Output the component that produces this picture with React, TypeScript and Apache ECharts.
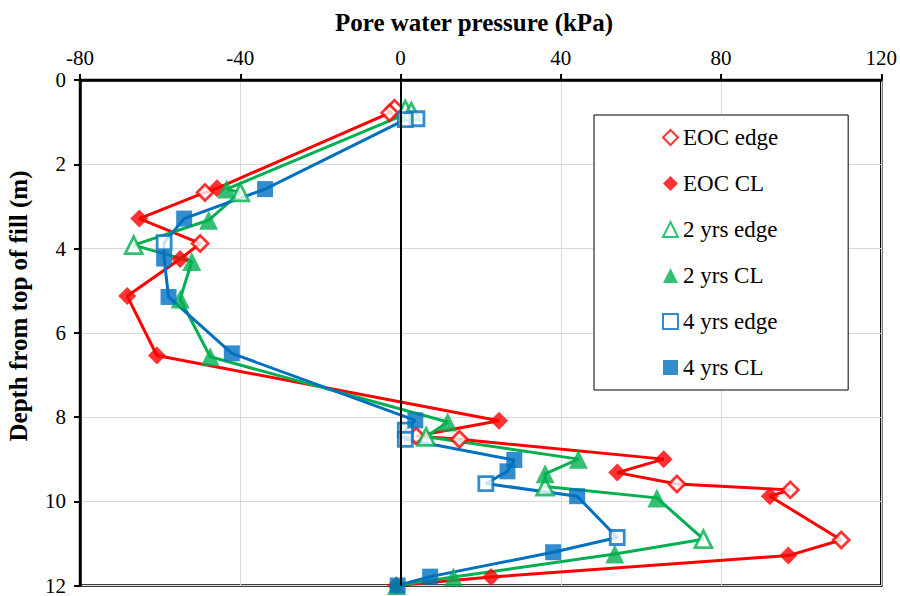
import React, { useEffect, useRef } from "react";
import * as echarts from "echarts";

// [pore water pressure (kPa), depth (m)]
const EOC_EDGE: [number, number][] = [
  [-1.5, 0.67], [-2.7, 0.78], [-48.8, 2.67], [-50, 3.88], [3.9, 8.45],
  [14.7, 8.53], [69, 9.59], [97.3, 9.73], [110, 10.92],
];
const EOC_CL: [number, number][] = [
  [-45.8, 2.57], [-65.2, 3.29], [-55, 4.25], [-68.2, 5.13], [-60.8, 6.54],
  [24.6, 8.09], [65.7, 9.0], [54.1, 9.32], [92.2, 9.88], [96.8, 11.29],
  [22.6, 11.8], [-1.1, 12],
];
const YR2_EDGE: [number, number][] = [
  [1.2, 0.7], [2.7, 0.75], [-40, 2.67], [-66.6, 3.92], [6.4, 8.47],
  [36.1, 9.65], [75.6, 10.9],
];
const YR2_CL: [number, number][] = [
  [-43.4, 2.59], [-47.9, 3.33], [-52.1, 4.31], [-55, 5.2], [-47.5, 6.57],
  [11.8, 8.12], [44.4, 9.0], [36.1, 9.35], [64, 9.92], [53.5, 11.25],
  [13.2, 11.8], [-1, 12],
];
const YR4_EDGE: [number, number][] = [
  [4.1, 0.92], [1.2, 0.94], [-59, 3.86], [1.2, 8.31], [1.2, 8.53],
  [21.3, 9.58], [54.1, 10.86],
];
const YR4_CL: [number, number][] = [
  [-33.8, 2.59], [-54, 3.29], [-59, 4.24], [-57.9, 5.15], [-42.1, 6.49],
  [3.7, 8.08], [28.4, 9.02], [26.7, 9.29], [44.1, 9.88], [38.1, 11.21],
  [7.4, 11.79], [-0.7, 12],
];

const X_TICKS = { min: -80, max: 120, interval: 40 };
const Y_TICKS = { min: 0, max: 12, interval: 2 };

const RED = "#FF0000";
const GREEN = "#00B050";
const BLUE = "#0070C0";
const FONT = "Liberation Serif";

function merged(a: [number, number][], b: [number, number][]) {
  return [...a, ...b].sort((p, q) => p[1] - q[1]);
}

function lineSeries(data: [number, number][], color: string) {
  return {
    type: "line",
    data,
    showSymbol: false,
    symbol: "none",
    lineStyle: { color, width: 3 },
    silent: true,
    z: 2,
  };
}

function markerSeries(
  name: string,
  data: [number, number][],
  symbol: string,
  size: number,
  color: string,
  open: boolean
) {
  return {
    type: "scatter",
    name,
    data,
    symbol,
    symbolSize: size,
    itemStyle: open
      ? { color: "#FFFFFF", borderColor: color, borderWidth: 2.8 }
      : { color, borderColor: color, borderWidth: 0 },
    z: 3,
  };
}

export default function App() {
  const ref = useRef<HTMLDivElement>(null);
  useEffect(() => {
    if (!ref.current) return;
    const chart = echarts.init(ref.current, null, { renderer: "svg" });
    chart.setOption({
      animation: false,
      backgroundColor: "#FFFFFF",
      textStyle: { fontFamily: FONT, color: "#000" },
      grid: {
        left: 80,
        top: 80,
        width: 804,
        height: 510,
        show: true,
        borderColor: "#000",
        borderWidth: 2.5,
      },
      xAxis: {
        type: "value",
        position: "top",
        min: X_TICKS.min,
        max: X_TICKS.max,
        interval: X_TICKS.interval,
        axisLine: { show: true, onZero: false, lineStyle: { color: "#000", width: 2.5 } },
        axisTick: { show: true, inside: false, length: 6, lineStyle: { color: "#000", width: 2 } },
        axisLabel: { color: "#000", fontFamily: FONT, fontSize: 21, margin: 12 },
        splitLine: { show: true, lineStyle: { color: "#d9d9d9", width: 1 } },
      },
      yAxis: {
        type: "value",
        inverse: true,
        min: Y_TICKS.min,
        max: Y_TICKS.max,
        interval: Y_TICKS.interval,
        axisLine: { show: true, onZero: false, lineStyle: { color: "#000", width: 2.5 } },
        axisTick: { show: true, inside: false, length: 6, lineStyle: { color: "#000", width: 2 } },
        axisLabel: { color: "#000", fontFamily: FONT, fontSize: 21, margin: 14 },
        splitLine: { show: true, lineStyle: { color: "#d9d9d9", width: 1 } },
      },
      legend: {
        orient: "vertical",
        left: 594,
        top: 115,
        padding: [11, 70, 11, 68],
        backgroundColor: "#FFFFFF",
        borderColor: "#000",
        borderWidth: 1,
        itemWidth: 15,
        itemHeight: 15,
        itemGap: 23,
        textStyle: { color: "#000", fontFamily: FONT, fontSize: 23 },
        data: ["EOC edge", "EOC CL", "2 yrs edge", "2 yrs CL", "4 yrs edge", "4 yrs CL"],
      },
      graphic: [
        {
          type: "text",
          x: 474,
          y: 22,
          style: {
            text: "Pore water pressure (kPa)",
            fontFamily: FONT,
            fontSize: 25,
            fontWeight: "bold",
            fill: "#000",
            align: "center",
            verticalAlign: "middle",
          },
        },
        {
          type: "text",
          x: 18,
          y: 306,
          rotation: Math.PI / 2,
          style: {
            text: "Depth from top of fill (m)",
            fontFamily: FONT,
            fontSize: 25,
            fontWeight: "bold",
            fill: "#000",
            align: "center",
            verticalAlign: "middle",
          },
        },
      ],
      series: [
        {
          type: "line",
          data: [],
          silent: true,
          z: 1,
          markLine: {
            silent: true,
            symbol: "none",
            label: { show: false },
            lineStyle: { color: "#000", width: 2, type: "solid" },
            data: [{ xAxis: 0 }],
          },
        },
        lineSeries(merged(EOC_EDGE, EOC_CL), RED),
        markerSeries("EOC edge", EOC_EDGE, "diamond", 16, RED, true),
        markerSeries("EOC CL", EOC_CL, "diamond", 18, RED, false),
        lineSeries(merged(YR2_EDGE, YR2_CL), GREEN),
        markerSeries("2 yrs edge", YR2_EDGE, "triangle", 17, GREEN, true),
        markerSeries("2 yrs CL", YR2_CL, "triangle", 19, GREEN, false),
        lineSeries(merged(YR4_EDGE, YR4_CL), BLUE),
        markerSeries("4 yrs edge", YR4_EDGE, "rect", 14, BLUE, true),
        markerSeries("4 yrs CL", YR4_CL, "rect", 16, BLUE, false),
      ],
    });
    return () => chart.dispose();
  }, []);
  return (
    <div
      ref={ref}
      style={{ position: "fixed", left: 0, top: 0, width: 900, height: 596 }}
    />
  );
}
